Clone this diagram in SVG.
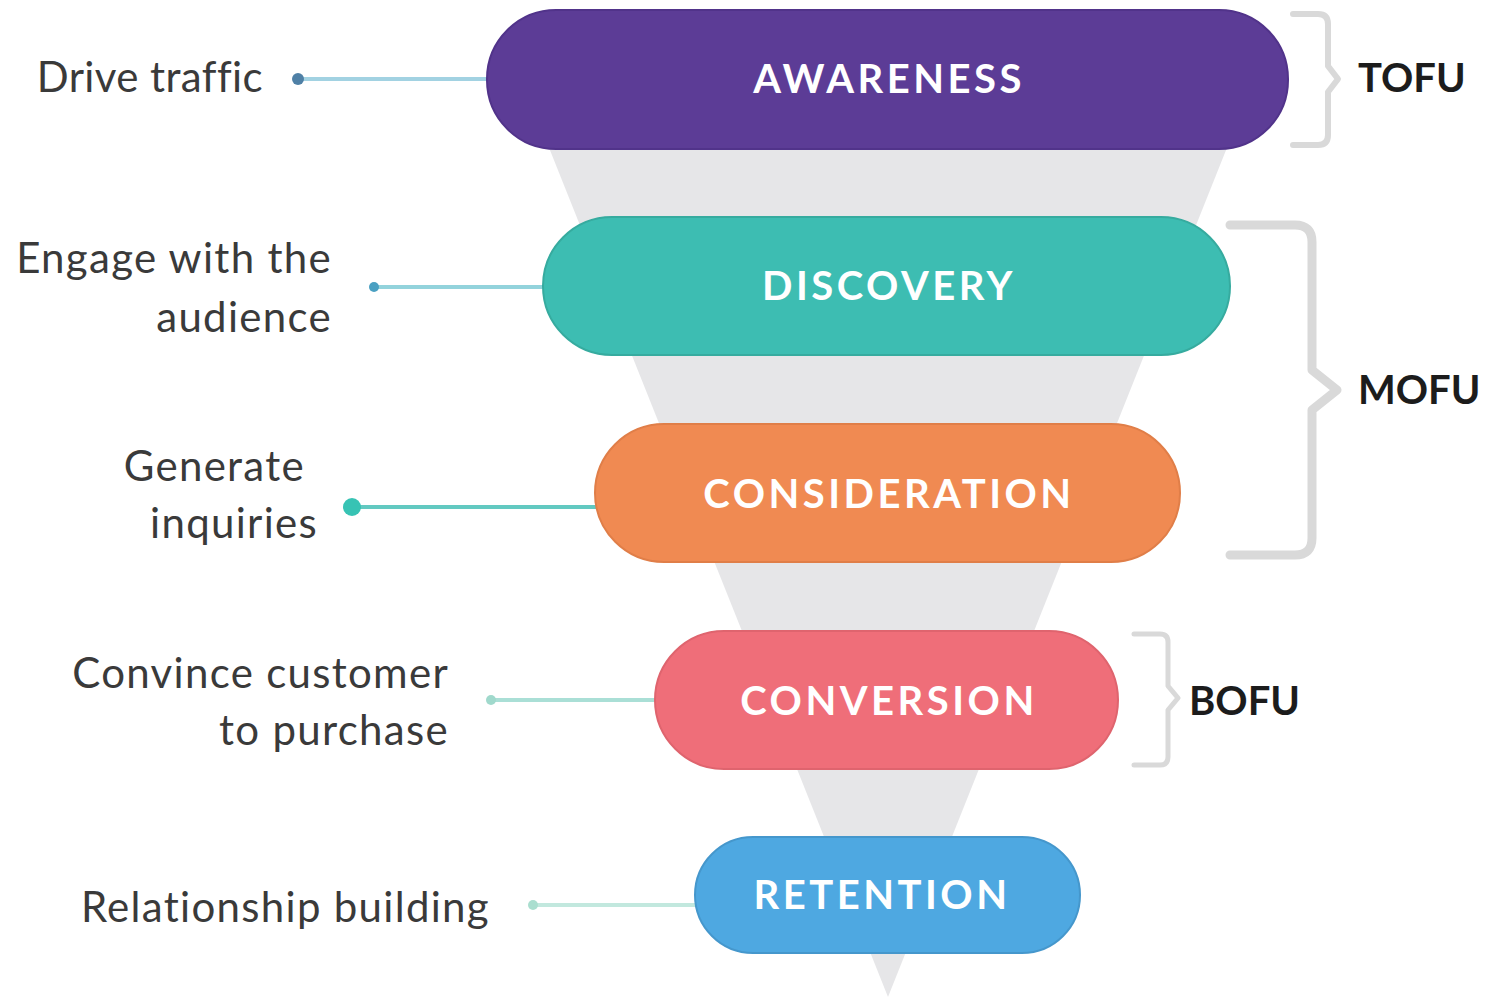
<svg xmlns="http://www.w3.org/2000/svg" width="1489" height="1003" viewBox="0 0 1489 1003">
<style>
.lbl{font-family:Lato,"Liberation Sans",sans-serif;font-size:42px;fill:#3a3a3a;text-anchor:end;letter-spacing:1.3px}
.pt{font-family:Lato,"Liberation Sans",sans-serif;font-size:40px;font-weight:700;fill:#ffffff;text-anchor:middle;letter-spacing:3.5px}
.st{font-family:Lato,"Liberation Sans",sans-serif;font-size:40px;font-weight:700;fill:#1c1c1c}
.brace{fill:none;stroke:#d9d9d9;stroke-linejoin:round;stroke-linecap:round}
.ln{stroke-width:4;fill:none}
</style>
<rect width="1489" height="1003" fill="#ffffff"/>
<g id="funnel">
<polygon points="522,80 1254,80 888,997" fill="#e6e6e8"/>
</g>
<g id="connectors">
<line class="ln" x1="298" y1="79" x2="490" y2="79" stroke="#a2d2e2"/>
<circle cx="298" cy="79" r="6" fill="#4f80a6"/>
<line class="ln" x1="374" y1="287" x2="546" y2="287" stroke="#93d3dc"/>
<circle cx="374" cy="287" r="5" fill="#4aa0c2"/>
<line class="ln" x1="352" y1="507" x2="598" y2="507" stroke="#62c9c1"/>
<circle cx="352" cy="507" r="9" fill="#37c3b4"/>
<line class="ln" x1="491" y1="700" x2="658" y2="700" stroke="#aadfd6"/>
<circle cx="491" cy="700" r="5" fill="#a0d9cc"/>
<line class="ln" x1="533" y1="905" x2="698" y2="905" stroke="#c2e8de"/>
<circle cx="533" cy="905" r="5" fill="#aadecf"/>
</g>
<g id="awareness">
<rect x="487" y="10" width="801" height="139" rx="69" fill="#5c3c96" stroke="#51338a" stroke-width="2"/>
<text class="pt" x="889" y="93">AWARENESS</text>
</g>
<g id="discovery">
<rect x="543" y="217" width="687" height="138" rx="69" fill="#3dbdb2" stroke="#36ab9f" stroke-width="2"/>
<text class="pt" x="889" y="300">DISCOVERY</text>
</g>
<g id="consideration">
<rect x="595" y="424" width="585" height="138" rx="69" fill="#f08a52" stroke="#e07e48" stroke-width="2"/>
<text class="pt" x="889" y="508">CONSIDERATION</text>
</g>
<g id="conversion">
<rect x="655" y="631" width="463" height="138" rx="69" fill="#ef6e79" stroke="#df646e" stroke-width="2"/>
<text class="pt" x="889" y="715">CONVERSION</text>
</g>
<g id="retention">
<rect x="695" y="837" width="385" height="116" rx="58" fill="#4ea8e1" stroke="#4597cc" stroke-width="2"/>
<text class="pt" x="882" y="909">RETENTION</text>
</g>
<g id="labels">
<text class="lbl" x="263" y="92" style="letter-spacing:0.4px">Drive traffic</text>
<text class="lbl" x="332" y="273">Engage with the</text>
<text class="lbl" x="332" y="332">audience</text>
<text class="lbl" x="305" y="481">Generate</text>
<text class="lbl" x="318" y="538">inquiries</text>
<text class="lbl" x="449" y="688">Convince customer</text>
<text class="lbl" x="449" y="745">to purchase</text>
<text class="lbl" x="490" y="922">Relationship building</text>
</g>
<g id="tofu">
<path class="brace" stroke-width="6" d="M1293,14 H1318 Q1328,14 1328,24 V66 L1338,79 L1328,92 V135 Q1328,145 1318,145 H1293"/>
<text class="st" x="1358" y="92">TOFU</text>
</g>
<g id="mofu">
<path class="brace" stroke-width="9" d="M1230,225 H1295 Q1312,225 1312,242 V370 L1337,390 L1312,410 V538 Q1312,555 1295,555 H1230"/>
<text class="st" x="1358" y="404">MOFU</text>
</g>
<g id="bofu">
<path class="brace" stroke-width="5" d="M1134,634 H1160 Q1168,634 1168,642 V686 L1178,698 L1168,710 V757 Q1168,765 1160,765 H1134"/>
<text class="st" x="1189" y="715">BOFU</text>
</g>
</svg>
